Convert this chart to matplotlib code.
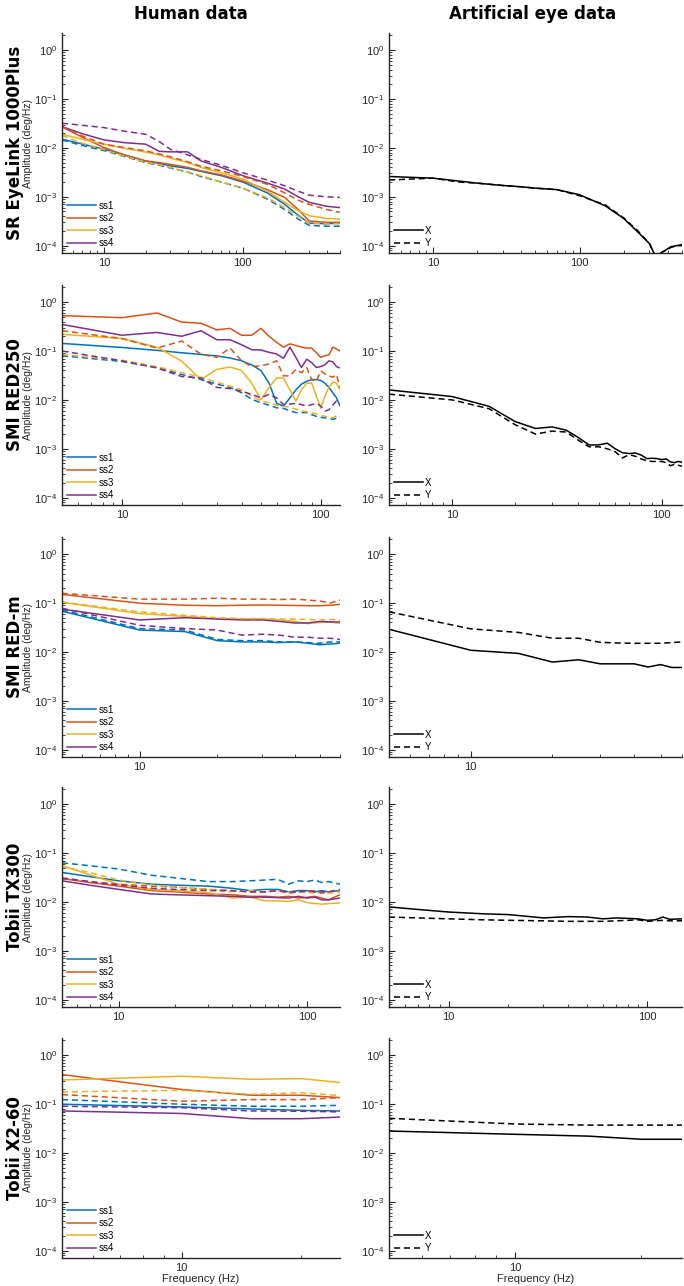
import matplotlib
matplotlib.use("Agg")
import matplotlib.pyplot as plt
from matplotlib.ticker import LogLocator, NullFormatter, FuncFormatter

# MATLAB default colours for ss1..ss4
COLORS = ["#0072BD", "#D95319", "#EDB120", "#7E2F8E"]
SUBJECTS = ["ss1", "ss2", "ss3", "ss4"]
TRACKERS = ["SR EyeLink 1000Plus", "SMI RED250", "SMI RED-m", "Tobii TX300", "Tobii X2-60"]
XLIMS = [(5, 500), (5, 125), (5, 60), (5, 150), (5, 25)]

# ---- SR EyeLink 1000Plus ----
EL_F = [5, 7, 10, 14, 20, 25, 30, 40, 50, 70, 100, 150, 200, 250, 300, 400, 500]
EL_HX = [
    [0.0151, 0.012, 0.0094, 0.0072, 0.0054, 0.0048, 0.0043, 0.0038, 0.0033, 0.0027, 0.002, 0.0012, 0.0007, 0.00042, 0.00029, 0.00028, 0.00029],
    [0.027, 0.0165, 0.0102, 0.0072, 0.0054, 0.005, 0.0046, 0.004, 0.0034, 0.0028, 0.0021, 0.0014, 0.00097, 0.00055, 0.00032, 0.0003, 0.0003],
    [0.019, 0.015, 0.0119, 0.0098, 0.0082, 0.0072, 0.0062, 0.005, 0.004, 0.0031, 0.0023, 0.0013, 0.00077, 0.00052, 0.00041, 0.00036, 0.00035],
    [0.0272, 0.0195, 0.0146, 0.0128, 0.0119, 0.0085, 0.0083, 0.0083, 0.0054, 0.004, 0.0027, 0.0019, 0.00144, 0.001, 0.00077, 0.00064, 0.0006],
]
EL_HY = [
    [0.0145, 0.0112, 0.0088, 0.0067, 0.005, 0.0044, 0.0039, 0.0032, 0.0026, 0.002, 0.0015, 0.0009, 0.00055, 0.00035, 0.00026, 0.00025, 0.00025],
    [0.027, 0.0175, 0.0119, 0.0102, 0.0087, 0.0075, 0.0066, 0.0052, 0.0042, 0.0034, 0.0026, 0.0018, 0.0012, 0.00085, 0.0007, 0.00055, 0.00048],
    [0.018, 0.0125, 0.0092, 0.0068, 0.0051, 0.0045, 0.004, 0.0032, 0.0027, 0.002, 0.0015, 0.00095, 0.0006, 0.0004, 0.00029, 0.00028, 0.00028],
    [0.0319, 0.029, 0.026, 0.022, 0.019, 0.0135, 0.0094, 0.0072, 0.0058, 0.0044, 0.0031, 0.0022, 0.00168, 0.0013, 0.00108, 0.001, 0.00097],
]
EL_AF = [5, 7, 10, 15, 20, 30, 40, 50, 70, 100, 150, 200, 250, 300, 330, 370, 420, 460, 500]
EL_AX = [0.0026, 0.0025, 0.0024, 0.0021, 0.0019, 0.0017, 0.0016, 0.0015, 0.0014, 0.0011, 0.00065, 0.00036, 0.00019, 0.00011, 0.00006, 0.000075, 0.000095, 0.0001, 0.000105]
EL_AY = [0.0022, 0.0023, 0.0024, 0.002, 0.0019, 0.0017, 0.0016, 0.0015, 0.0014, 0.00105, 0.00068, 0.00037, 0.0002, 0.00011, 0.00006, 0.000075, 0.000092, 0.0001, 0.0001]

# ---- SMI RED250 ----
R250_F = [5, 10, 15, 20, 25, 30, 35, 40, 45, 50, 55, 60, 65, 70, 75, 80, 85, 90, 95, 100, 105, 110, 115, 120, 125]
R250_HX = [
    [0.143, 0.118, 0.103, 0.092, 0.085, 0.079, 0.072, 0.063, 0.052, 0.04, 0.022, 0.0085, 0.0075, 0.011, 0.016, 0.021, 0.024, 0.026, 0.026, 0.025, 0.022, 0.018, 0.014, 0.011, 0.0075],
    [0.53, 0.48, 0.6, 0.39, 0.37, 0.27, 0.29, 0.21, 0.21, 0.29, 0.2, 0.15, 0.12, 0.14, 0.13, 0.12, 0.115, 0.115, 0.093, 0.074, 0.08, 0.083, 0.12, 0.11, 0.1],
    [0.22, 0.18, 0.12, 0.062, 0.026, 0.042, 0.047, 0.04, 0.022, 0.01, 0.018, 0.028, 0.028, 0.016, 0.0095, 0.016, 0.022, 0.022, 0.012, 0.0068, 0.012, 0.018, 0.023, 0.022, 0.016],
    [0.35, 0.21, 0.24, 0.2, 0.26, 0.17, 0.17, 0.134, 0.106, 0.105, 0.094, 0.087, 0.071, 0.12, 0.074, 0.046, 0.068, 0.058, 0.046, 0.048, 0.052, 0.063, 0.06, 0.048, 0.045],
]
R250_HY = [
    [0.08, 0.061, 0.046, 0.033, 0.026, 0.021, 0.018, 0.014, 0.0103, 0.0087, 0.0078, 0.0069, 0.0067, 0.006, 0.0055, 0.0055, 0.0055, 0.005, 0.0046, 0.0044, 0.0043, 0.0042, 0.004, 0.0042, 0.0046],
    [0.26, 0.18, 0.115, 0.16, 0.086, 0.074, 0.115, 0.063, 0.048, 0.05, 0.054, 0.063, 0.031, 0.031, 0.042, 0.036, 0.046, 0.026, 0.024, 0.039, 0.034, 0.031, 0.029, 0.033, 0.018],
    [0.085, 0.065, 0.048, 0.036, 0.029, 0.023, 0.019, 0.016, 0.012, 0.0095, 0.0088, 0.0078, 0.0075, 0.007, 0.0065, 0.006, 0.0057, 0.0054, 0.0052, 0.0048, 0.0046, 0.0044, 0.0043, 0.0047, 0.0052],
    [0.1, 0.063, 0.045, 0.03, 0.028, 0.018, 0.017, 0.015, 0.013, 0.011, 0.013, 0.011, 0.008, 0.0082, 0.0085, 0.008, 0.0075, 0.008, 0.0085, 0.0075, 0.0059, 0.0063, 0.0078, 0.0095, 0.008],
]
R250_AX = [0.016, 0.0117, 0.0074, 0.0036, 0.0026, 0.0028, 0.0024, 0.0017, 0.0012, 0.0012, 0.0013, 0.001, 0.00083, 0.0008, 0.00082, 0.00074, 0.00063, 0.00064, 0.00063, 0.0006, 0.00062, 0.00054, 0.00052, 0.00055, 0.00053]
R250_AY = [0.0131, 0.01, 0.0066, 0.0031, 0.002, 0.0023, 0.0022, 0.0015, 0.0011, 0.0011, 0.001, 0.00087, 0.00065, 0.00076, 0.0007, 0.00062, 0.00057, 0.00055, 0.00055, 0.00055, 0.00052, 0.00045, 0.00048, 0.00046, 0.00044]

# ---- SMI RED-m ----
REDM_F = [5, 10, 15, 20, 25, 30, 35, 40, 45, 50, 55, 60]
REDM_HX = [
    [0.068, 0.028, 0.026, 0.017, 0.016, 0.016, 0.0155, 0.016, 0.015, 0.014, 0.0145, 0.015],
    [0.15, 0.099, 0.09, 0.088, 0.09, 0.091, 0.09, 0.089, 0.088, 0.088, 0.09, 0.094],
    [0.103, 0.061, 0.053, 0.048, 0.047, 0.047, 0.045, 0.042, 0.038, 0.04, 0.041, 0.038],
    [0.075, 0.045, 0.05, 0.047, 0.045, 0.045, 0.042, 0.039, 0.039, 0.042, 0.041, 0.041],
]
REDM_HY = [
    [0.072, 0.03, 0.028, 0.018, 0.017, 0.017, 0.016, 0.016, 0.0155, 0.015, 0.016, 0.016],
    [0.158, 0.12, 0.12, 0.125, 0.12, 0.12, 0.118, 0.12, 0.115, 0.11, 0.1, 0.115],
    [0.105, 0.066, 0.056, 0.05, 0.048, 0.048, 0.047, 0.047, 0.046, 0.045, 0.046, 0.045],
    [0.078, 0.035, 0.03, 0.028, 0.022, 0.023, 0.022, 0.02, 0.02, 0.019, 0.019, 0.018],
]
REDM_AX = [0.029, 0.0108, 0.0093, 0.0062, 0.0069, 0.0057, 0.0057, 0.0057, 0.0049, 0.0055, 0.0048, 0.0048]
REDM_AY = [0.066, 0.0296, 0.025, 0.019, 0.019, 0.0157, 0.0152, 0.015, 0.015, 0.015, 0.0155, 0.016]

# ---- Tobii TX300 ----
TX_F = [5, 7, 10, 15, 20, 30, 40, 50, 60, 70, 80, 90, 100, 110, 120, 130, 150]
TX_HX = [
    [0.04, 0.033, 0.027, 0.023, 0.022, 0.021, 0.019, 0.017, 0.018, 0.018, 0.016, 0.017, 0.017, 0.016, 0.017, 0.016, 0.017],
    [0.03, 0.025, 0.021, 0.017, 0.016, 0.0145, 0.014, 0.013, 0.013, 0.0125, 0.013, 0.012, 0.0124, 0.013, 0.012, 0.011, 0.014],
    [0.055, 0.036, 0.023, 0.018, 0.017, 0.0155, 0.012, 0.0125, 0.0105, 0.0105, 0.0102, 0.011, 0.0097, 0.0093, 0.009, 0.0092, 0.0095],
    [0.027, 0.022, 0.018, 0.0145, 0.014, 0.0134, 0.013, 0.0125, 0.0125, 0.0122, 0.012, 0.013, 0.012, 0.0125, 0.011, 0.011, 0.012],
]
TX_HY = [
    [0.063, 0.055, 0.047, 0.035, 0.031, 0.026, 0.026, 0.027, 0.028, 0.029, 0.023, 0.027, 0.026, 0.028, 0.025, 0.026, 0.023],
    [0.03, 0.026, 0.023, 0.021, 0.02, 0.018, 0.017, 0.016, 0.016, 0.017, 0.015, 0.016, 0.016, 0.017, 0.015, 0.016, 0.017],
    [0.053, 0.04, 0.028, 0.022, 0.02, 0.018, 0.016, 0.017, 0.016, 0.017, 0.016, 0.016, 0.016, 0.015, 0.016, 0.015, 0.016],
    [0.031, 0.026, 0.022, 0.019, 0.018, 0.017, 0.017, 0.016, 0.016, 0.017, 0.016, 0.016, 0.017, 0.016, 0.016, 0.016, 0.018],
]
TX_AX = [0.0079, 0.007, 0.0062, 0.0057, 0.0055, 0.0047, 0.005, 0.0049, 0.0045, 0.0047, 0.0046, 0.0045, 0.0042, 0.0043, 0.0049, 0.0044, 0.0045]
TX_AY = [0.0049, 0.0047, 0.0045, 0.0043, 0.0042, 0.0041, 0.004, 0.004, 0.004, 0.0041, 0.0042, 0.0043, 0.004, 0.0041, 0.0042, 0.0041, 0.0041]

# ---- Tobii X2-60 ----
X2_F = [5, 10, 15, 20, 25]
X2_HX = [
    [0.099, 0.087, 0.079, 0.074, 0.072],
    [0.4, 0.198, 0.151, 0.151, 0.135],
    [0.31, 0.37, 0.32, 0.33, 0.275],
    [0.072, 0.064, 0.05, 0.05, 0.054],
]
X2_HY = [
    [0.123, 0.099, 0.09, 0.09, 0.094],
    [0.156, 0.114, 0.123, 0.123, 0.135],
    [0.177, 0.19, 0.158, 0.17, 0.149],
    [0.09, 0.084, 0.072, 0.071, 0.069],
]
X2_AX = [0.028, 0.024, 0.022, 0.019, 0.019]
X2_AY = [0.051, 0.039, 0.037, 0.037, 0.037]

HUMAN = [(EL_F, EL_HX, EL_HY), (R250_F, R250_HX, R250_HY), (REDM_F, REDM_HX, REDM_HY),
         (TX_F, TX_HX, TX_HY), (X2_F, X2_HX, X2_HY)]
ARTIF = [(EL_AF, EL_AX, EL_AY), (R250_F, R250_AX, R250_AY), (REDM_F, REDM_AX, REDM_AY),
         (TX_F, TX_AX, TX_AY), (X2_F, X2_AX, X2_AY)]

W, H = 684, 1286
TOPS = [33, 285, 537, 787, 1038]
AX_H = 220
COLS = [(62, 278), (389, 293)]
YLIM = (10 ** -4.15, 10 ** 0.35)
AXC = "#262626"

plt.rcParams["font.family"] = ["Liberation Sans", "DejaVu Sans"]
fig = plt.figure(figsize=(W / 100, H / 100), dpi=100)


def style(ax, xlim):
    ax.set_xscale("log"); ax.set_yscale("log")
    ax.set_xlim(*xlim); ax.set_ylim(*YLIM)
    for s in ("top", "right"):
        ax.spines[s].set_visible(False)
    for s in ("left", "bottom"):
        ax.spines[s].set_color(AXC); ax.spines[s].set_linewidth(1.0)
    ax.xaxis.set_major_locator(LogLocator(base=10))
    ax.xaxis.set_minor_locator(LogLocator(base=10, subs=range(2, 10)))
    ax.xaxis.set_major_formatter(FuncFormatter(lambda v, p: f"{v:g}"))
    ax.xaxis.set_minor_formatter(NullFormatter())
    ax.yaxis.set_major_locator(LogLocator(base=10))
    ax.yaxis.set_minor_locator(LogLocator(base=10, subs=range(2, 10)))
    ax.yaxis.set_minor_formatter(NullFormatter())
    ax.tick_params(which="both", direction="in", colors=AXC, labelsize=8, labelcolor=AXC)
    ax.tick_params(which="major", length=4, width=0.8)
    ax.tick_params(which="minor", length=2, width=0.6)


for r in range(5):
    top = TOPS[r]
    for c in range(2):
        x0, w = COLS[c]
        ax = fig.add_axes([x0 / W, 1 - (top + AX_H) / H, w / W, AX_H / H])
        style(ax, XLIMS[r])
        if c == 0:
            f, hx, hy = HUMAN[r]
            handles = []
            for i in range(4):
                ln, = ax.plot(f, hx[i], color=COLORS[i], lw=1.1, label=SUBJECTS[i])
                handles.append(ln)
            for i in range(4):
                ax.plot(f, hy[i], color=COLORS[i], lw=1.1, ls=(0, (4, 2.5)))
            ax.legend(handles=handles, loc="lower left", frameon=False, fontsize=7,
                      handlelength=3.0, handletextpad=0.3, labelspacing=0.25,
                      borderaxespad=0.2, borderpad=0.3)
            fig.text(28 / W, 1 - (top + AX_H / 2) / H, "Amplitude (deg/Hz)", rotation=90,
                     ha="center", va="center", fontsize=7.5, color=AXC)
            fig.text(15 / W, 1 - (top + AX_H / 2) / H, TRACKERS[r], rotation=90,
                     ha="center", va="center", fontsize=12, fontweight="bold",
                     family=["DejaVu Sans"])
        else:
            f, ax_x, ax_y = ARTIF[r]
            ax.plot(f, ax_x, color="black", lw=1.1, label="X")
            ax.plot(f, ax_y, color="black", lw=1.1, ls=(0, (4, 2.5)), label="Y")
            ax.legend(loc="lower left", frameon=False, fontsize=7,
                      handlelength=3.0, handletextpad=0.2, labelspacing=0.25,
                      borderaxespad=0.2, borderpad=0.3)
        if r == 4:
            ax.set_xlabel("Frequency (Hz)", fontsize=8, color=AXC, labelpad=1)

fig.text(191 / W, 1 - 14 / H, "Human data", ha="center", va="center",
         fontsize=12, fontweight="bold", family=["DejaVu Sans"])
fig.text(533 / W, 1 - 14 / H, "Artificial eye data", ha="center", va="center",
         fontsize=12, fontweight="bold", family=["DejaVu Sans"])

fig.savefig("out.png", dpi=100)
